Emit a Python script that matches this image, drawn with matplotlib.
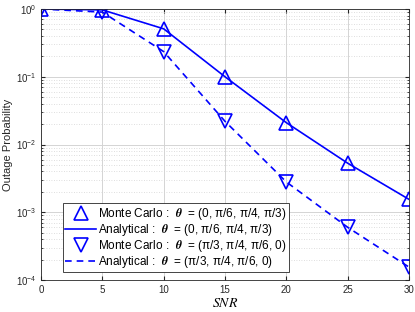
import matplotlib
matplotlib.use("Agg")
import matplotlib.pyplot as plt
from matplotlib.ticker import LogLocator, NullFormatter

plt.rcParams["font.family"] = ["Liberation Sans", "DejaVu Sans"]
plt.rcParams["mathtext.fontset"] = "stix"

snr = [0, 5, 10, 15, 20, 25, 30]
mc_set1 = [1.0, 0.97, 0.51, 0.10, 0.021, 0.0053, 0.00155]
an_set1 = [1.0, 0.97, 0.51, 0.10, 0.021, 0.0053, 0.00155]
mc_set2 = [1.0, 0.90, 0.235, 0.022, 0.0028, 0.0006, 0.000155]
an_set2 = [1.0, 0.90, 0.235, 0.022, 0.0028, 0.0006, 0.000155]

label_mc1 = "Monte Carlo :  $\\boldsymbol{\\theta}$  = (0, π/6, π/4, π/3)"
label_an1 = "Analytical :  $\\boldsymbol{\\theta}$  = (0, π/6, π/4, π/3)"
label_mc2 = "Monte Carlo :  $\\boldsymbol{\\theta}$  = (π/3, π/4, π/6, 0)"
label_an2 = "Analytical :  $\\boldsymbol{\\theta}$  = (π/3, π/4, π/6, 0)"

blue = (0, 0, 1)

fig = plt.figure(figsize=(4.15, 3.12), dpi=100)
ax = fig.add_axes([41 / 415, 32 / 312, 368 / 415, 271 / 312])

ax.semilogy(snr, mc_set1, linestyle="none", marker="^", markersize=10,
            markerfacecolor="none", markeredgecolor=blue, markeredgewidth=1.2,
            label=label_mc1)
ax.semilogy(snr, an_set1, color=blue, linewidth=1.2, label=label_an1)
ax.semilogy(snr, mc_set2, linestyle="none", marker="v", markersize=10,
            markerfacecolor="none", markeredgecolor=blue, markeredgewidth=1.2,
            label=label_mc2)
ax.semilogy(snr, an_set2, color=blue, linewidth=1.2, linestyle=(0, (4, 3)),
            label=label_an2)

ax.set_xlim(0, 30)
ax.set_ylim(1e-4, 1)
ax.set_xticks(snr)
ax.yaxis.set_major_locator(LogLocator(base=10, numticks=10))
ax.yaxis.set_minor_locator(LogLocator(base=10, subs=range(2, 10), numticks=20))
ax.yaxis.set_minor_formatter(NullFormatter())

ax.grid(True, which="major", color="#d4d4d4", linewidth=0.7)
ax.grid(True, which="minor", axis="y", color="#d4d4d4", linewidth=0.6,
        linestyle=(0, (1, 2)))
ax.set_axisbelow(True)

ax.tick_params(which="both", direction="in", top=True, right=True,
               labelsize=7, colors="#262626")
ax.tick_params(which="major", length=3)
ax.tick_params(which="minor", length=1.5)
for spine in ax.spines.values():
    spine.set_color("#262626")
    spine.set_linewidth(0.6)

ax.set_xlabel("$SNR$", fontsize=10, labelpad=1)
ax.set_ylabel("Outage Probability", fontsize=8, labelpad=2, color="#262626")

leg = ax.legend(loc="lower left", bbox_to_anchor=(22 / 368, 8 / 271),
                fontsize=8.5, frameon=True, fancybox=False, framealpha=1,
                edgecolor="#262626", borderpad=0.2, labelspacing=0.0,
                handlelength=2.6, handletextpad=0.2, borderaxespad=0)
leg.get_frame().set_linewidth(0.6)

fig.savefig("out.png", dpi=100)
